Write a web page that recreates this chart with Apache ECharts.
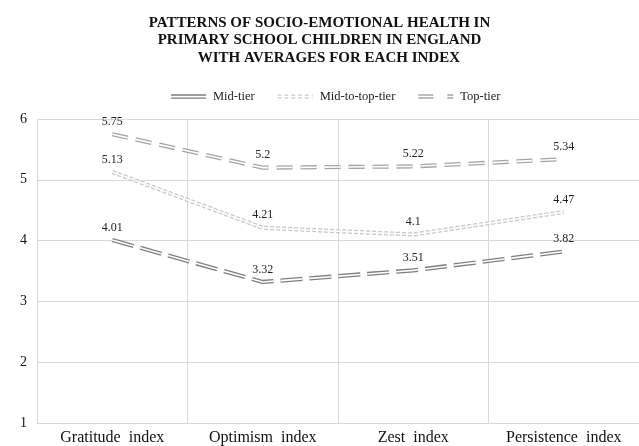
<!DOCTYPE html>
<html><head><meta charset="utf-8">
<script src="https://cdn.jsdelivr.net/npm/echarts@6/dist/echarts.min.js"></script>
<style>html,body{margin:0;padding:0;background:#fff}#c{width:639px;height:446px}</style>
</head><body><div id="c"></div>
<script>
var categories = ['Gratitude  index', 'Optimism  index', 'Zest  index', 'Persistence  index'];
var midTier = [4.01, 3.32, 3.51, 3.82];
var midToTopTier = [5.13, 4.21, 4.1, 4.47];
var topTier = [5.75, 5.2, 5.22, 5.34];
var yTicks = [1, 2, 3, 4, 5, 6];

var FONT = '"Liberation Serif", "Times New Roman", serif';
var specs = [
  {name: 'Mid-tier', data: midTier, color: '#7f7f7f', dash: [22, 7]},
  {name: 'Mid-to-top-tier', data: midToTopTier, color: '#c9c9c9', dash: [4, 2]},
  {name: 'Top-tier', data: topTier, color: '#a5a5a5', dash: [16, 8]}
];
var icons = {
  'Mid-tier': 'path://M0,0H34V1.3H0Z M0,3H34V4.3H0Z',
  'Mid-to-top-tier': 'path://M0,0H4V1.3H0Z M7,0H11V1.3H7Z M14,0H18V1.3H14Z M21,0H25V1.3H21Z M28,0H32V1.3H28Z M35,0H36V1.3H35Z M0,3H4V4.3H0Z M7,3H11V4.3H7Z M14,3H18V4.3H14Z M21,3H25V4.3H21Z M28,3H32V4.3H28Z M35,3H36V4.3H35Z',
  'Top-tier': 'path://M0,0H15V1.3H0Z M0,3H15V4.3H0Z M29,0H35V1.3H29Z M29,3H35V4.3H29Z'
};
var series = [];
specs.forEach(function (s) {
  series.push({
    name: s.name, type: 'line', data: s.data,
    symbol: 'circle', symbolSize: 1, showSymbol: true,
    lineStyle: {color: s.color, width: 4.2, type: s.dash},
    itemStyle: {color: 'rgba(0,0,0,0)', borderWidth: 0},
    label: {show: true, position: 'top', distance: 6, offset: [-6, 0], fontFamily: FONT, fontSize: 12, color: '#222'},
    labelLayout: {hideOverlap: false},
    z: 2
  });
  series.push({
    name: s.name + '_w', type: 'line', data: s.data, symbol: 'none', silent: true,
    lineStyle: {color: '#ffffff', width: 1.6, type: s.dash},
    z: 3
  });
});

var chart = echarts.init(document.getElementById('c'), null, {renderer: 'canvas'});
chart.setOption({
  animation: false,
  backgroundColor: '#fff',
  title: {
    text: 'PATTERNS OF SOCIO-EMOTIONAL HEALTH IN\nPRIMARY SCHOOL CHILDREN IN ENGLAND\n     WITH AVERAGES FOR EACH INDEX',
    left: 'center', top: 9,
    textStyle: {fontFamily: FONT, fontSize: 15, fontWeight: 'bold', color: '#111', lineHeight: 17.5}
  },
  legend: {
    top: 85, left: 166, itemGap: 23, itemWidth: 35, itemHeight: 5,
    data: specs.map(function (s) { return {name: s.name, icon: icons[s.name], itemStyle: {color: s.color}}; }),
    textStyle: {fontFamily: FONT, fontSize: 12.5, color: '#222', padding: [0, 0, 0, 2]}
  },
  grid: {left: 37, right: 0, top: 119, bottom: 23, containLabel: false},
  xAxis: {
    type: 'category', data: categories, boundaryGap: true,
    axisLine: {show: true, lineStyle: {color: '#d9d9d9', width: 1}},
    axisTick: {show: false},
    splitLine: {show: true, lineStyle: {color: '#d9d9d9', width: 1}},
    axisLabel: {fontFamily: FONT, fontSize: 16, color: '#111', margin: 7, interval: 0}
  },
  yAxis: {
    type: 'value', min: 1, max: 6, interval: 1,
    axisLine: {show: true, lineStyle: {color: '#d9d9d9', width: 1}},
    axisTick: {show: false},
    splitLine: {show: true, lineStyle: {color: '#d9d9d9', width: 1}},
    axisLabel: {fontFamily: FONT, fontSize: 14, color: '#111', margin: 10,
      formatter: function (v) { return yTicks.indexOf(v) >= 0 ? String(v) : ''; }}
  },
  series: series
});
</script></body></html>
